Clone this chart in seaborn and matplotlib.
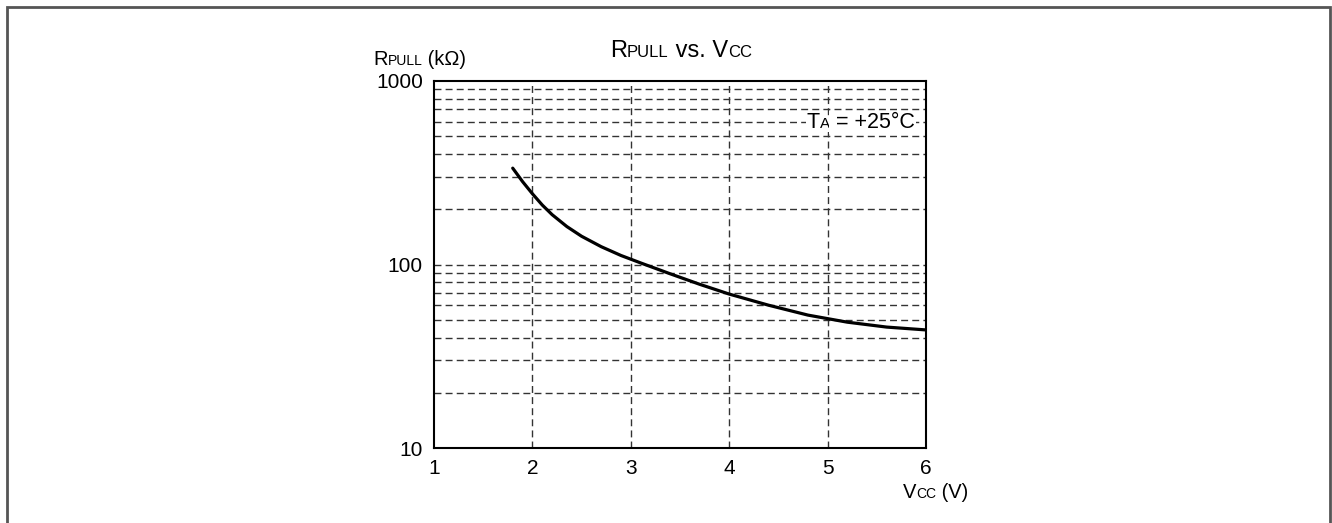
import numpy as np
import pandas as pd
import matplotlib.pyplot as plt
import seaborn as sns
from matplotlib.patches import Rectangle

# ------------------------------
# Data
# ------------------------------
vcc = [1.8, 1.9, 2.0, 2.1, 2.2, 2.35, 2.5, 2.7, 2.9, 3.1, 3.4, 3.7,
       4.0, 4.4, 4.8, 5.2, 5.6, 6.0]
rpull = [335, 283, 243, 211, 187, 161, 142.5, 125, 112, 102, 89, 78,
         69, 60, 53, 48.5, 45.6, 44]

x_ticks = [1, 2, 3, 4, 5, 6]
y_ticks = [10, 100, 1000]
y_minor = [20, 30, 40, 50, 60, 70, 80, 90, 200, 300, 400, 500, 600, 700, 800, 900]

df = pd.DataFrame({'vcc': vcc, 'rpull': rpull})

sns.set_theme(style='white')
plt.rcParams['font.family'] = ['Liberation Sans', 'DejaVu Sans']

W, H = 1332, 523
fig = plt.figure(figsize=(W / 100, H / 100), dpi=100)
ax = fig.add_axes([434 / W, 1 - 448 / H, (926 - 434) / W, (448 - 81) / H])

sns.lineplot(data=df, x='vcc', y='rpull', ax=ax, color='black', linewidth=2.3)

ax.set_yscale('log')
ax.set_xlim(1, 6)
ax.set_ylim(10, 1000)
ax.set_xticks(x_ticks)
ax.set_xticklabels([str(t) for t in x_ticks])
ax.set_yticks(y_ticks)
ax.set_yticklabels([str(t) for t in y_ticks])
ax.set_yticks(y_minor, minor=True)
ax.yaxis.set_minor_formatter(plt.NullFormatter())
ax.tick_params(axis='both', which='both', length=0, labelsize=15, colors='black')
ax.tick_params(axis='x', pad=8)
ax.tick_params(axis='y', pad=8)
ax.set_xlabel('')
ax.set_ylabel('')

# dashed grid
dash = dict(color='#333333', linewidth=1.0, linestyle=(0, (5, 3)))
for yv in y_minor + [100]:
    ax.axhline(yv, zorder=0, **dash)
for xv in x_ticks[1:-1]:
    ax.axvline(xv, zorder=0, **dash)

for s in ax.spines.values():
    s.set_color('black')
    s.set_linewidth(1.5)

renderer = fig.canvas.get_renderer()


def rich(parts, x, y, ha='left', bg=None):
    """Pieces of text in different sizes on one baseline (pixel coords)."""
    kw = dict(color='black', va='baseline')
    if bg:
        kw['bbox'] = dict(fc='white', ec='none', pad=1.0)
    if ha == 'right':
        # measure total width first
        total = 0
        for txt, size in parts:
            t = fig.text(0, 0, txt, fontsize=size, **kw)
            total += t.get_window_extent(renderer).width
            t.remove()
        x = x - total
    for txt, size in parts:
        t = fig.text(x / W, 1 - y / H, txt, fontsize=size, ha='left', **kw)
        x += t.get_window_extent(renderer).width


rich([('R', 17), ('PULL', 12), (' vs. V', 17), ('CC', 12)], 610, 57)
rich([('R', 14.5), ('PULL', 10), (' (k\u03a9)', 14.5)], 373, 65)
rich([('V', 14.5), ('CC', 10), (' (V)', 14.5)], 903, 498)
rich([('T', 15.5), ('A', 11), (' = +25\u00b0C', 15.5)], 915, 128, ha='right', bg=True)

# outer frame
fig.add_artist(Rectangle((7 / W, -0.01), (1330 - 7) / W, 1 - 7 / H + 0.01,
                         transform=fig.transFigure, fill=False,
                         edgecolor='#555555', linewidth=2))

fig.savefig('out.png', dpi=100)
